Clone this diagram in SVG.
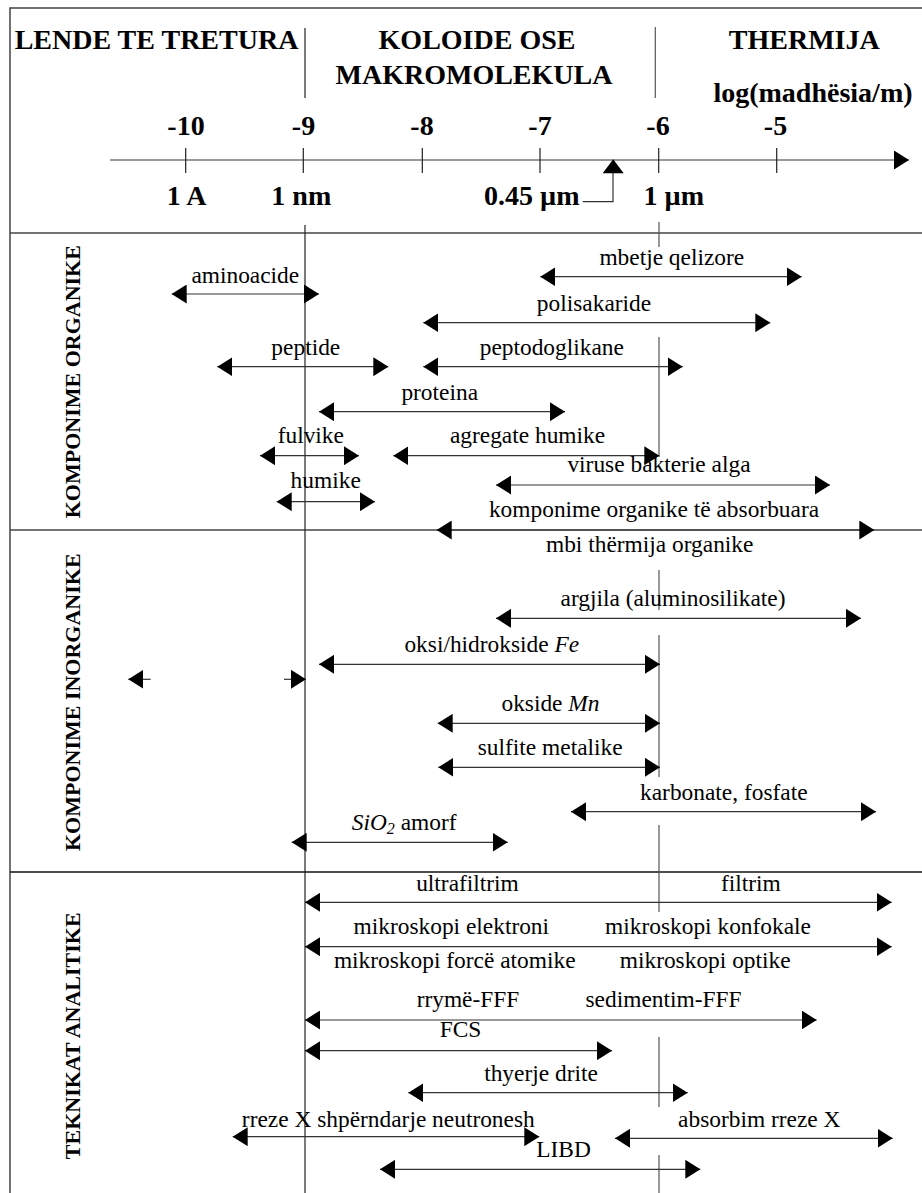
<svg xmlns="http://www.w3.org/2000/svg" width="922" height="1193" viewBox="0 0 922 1193">
<style>
.t{font-family:"Liberation Serif","Times New Roman",serif;font-size:23.4px;fill:#000;text-anchor:middle}
.h{font-family:"Liberation Serif","Times New Roman",serif;font-weight:bold;font-size:28px;fill:#000;text-anchor:middle}
.v{font-family:"Liberation Serif","Times New Roman",serif;font-weight:bold;font-size:22px;fill:#000;text-anchor:middle}
.frame{stroke:#444;stroke-width:1.5;fill:none}
.vl{stroke:#222;stroke-width:1.2;fill:none}
.tick{stroke:#222;stroke-width:1.2}
.a{stroke:#333;stroke-width:1.2;fill:none;marker-start:url(#ah);marker-end:url(#ah)}
.ar{stroke:#333;stroke-width:1.2;fill:none;marker-end:url(#ah)}
.al{stroke:#333;stroke-width:1.2;fill:none;marker-start:url(#ah)}
</style>
<defs>
<marker id="ah" markerUnits="userSpaceOnUse" markerWidth="15" markerHeight="19" refX="15" refY="9.5" orient="auto-start-reverse" viewBox="0 0 15 19">
<path d="M0,0 L15,9.5 L0,19 Z" fill="#000"/>
</marker>
</defs>
<rect width="922" height="1193" fill="#fff"/>
<g id="frame">
<path class="frame" d="M10,1193 V8 H922"/>
<line class="frame" x1="10" y1="233" x2="922" y2="233"/>
<line class="frame" x1="10" y1="530" x2="922" y2="530"/>
<line class="frame" x1="10" y1="872" x2="922" y2="872" style="stroke:#111"/>
<line class="vl" x1="305" y1="28" x2="305" y2="98"/>
<line class="vl" x1="305" y1="225" x2="305" y2="1193"/>
<line class="vl" x1="655.3" y1="27" x2="655.3" y2="98" style="stroke:#555"/>
<path class="vl" style="stroke:#555" d="M659,222 V247 M659,337 V457 M659,570 V610 M659,635 V777 M659,825 V912 M659,1037 V1107 M659,1155 V1193"/>
</g>
<g id="header">
<text class="h" x="156.5" y="48.5">LENDE TE TRETURA</text>
<text class="h" x="477" y="49">KOLOIDE OSE</text>
<text class="h" x="474" y="83.5">MAKROMOLEKULA</text>
<text class="h" x="804.3" y="49.3">THERMIJA</text>
<text class="h" x="813" y="101.7">log(madhësia/m)</text>
</g>
<g id="axis">
<line class="ar" x1="110" y1="160" x2="909" y2="160"/>
<g class="tick">
<line x1="185.7" y1="148" x2="185.7" y2="173"/>
<line x1="303.3" y1="148" x2="303.3" y2="173"/>
<line x1="422.3" y1="148" x2="422.3" y2="173"/>
<line x1="540" y1="148" x2="540" y2="173"/>
<line x1="658.7" y1="148" x2="658.7" y2="173"/>
<line x1="776.7" y1="148" x2="776.7" y2="173"/>
</g>
<text class="h" x="186" y="135">-10</text>
<text class="h" x="303.5" y="135">-9</text>
<text class="h" x="422" y="135">-8</text>
<text class="h" x="540" y="135">-7</text>
<text class="h" x="658" y="135">-6</text>
<text class="h" x="775.5" y="135">-5</text>
<text class="h" x="186.7" y="205">1 A</text>
<text class="h" x="301.3" y="205">1 nm</text>
<text class="h" x="579.5" y="205" style="text-anchor:end">0.45 µm</text>
<text class="h" x="673.8" y="205">1 µm</text>
<path class="vl" style="stroke:#333" d="M582.7,201.7 H613 V172"/>
<path d="M602.7,173.3 L613.2,159.3 L623.7,173.3 Z" fill="#000"/>
</g>
<g id="section-labels">
<text class="v" transform="translate(80,381.7) rotate(-90)">KOMPONIME ORGANIKE</text>
<text class="v" transform="translate(80,702.2) rotate(-90)">KOMPONIME INORGANIKE</text>
<text class="v" transform="translate(80,1035.8) rotate(-90)">TEKNIKAT ANALITIKE</text>
</g>
<g id="connectors">
<line class="a" x1="171.7" y1="294" x2="319" y2="294"/>
<line class="a" x1="540.3" y1="276.7" x2="801.7" y2="276.7"/>
<line class="a" x1="423.3" y1="322.7" x2="770.3" y2="322.7"/>
<line class="a" x1="217.3" y1="366.7" x2="388.3" y2="366.7"/>
<line class="a" x1="423.3" y1="366.7" x2="682.7" y2="366.7"/>
<line class="a" x1="319" y1="411.7" x2="565" y2="411.7"/>
<line class="a" x1="260" y1="455.7" x2="359" y2="455.7"/>
<line class="a" x1="393.3" y1="455.7" x2="659.3" y2="455.7"/>
<line class="a" x1="276.7" y1="501.7" x2="375" y2="501.7"/>
<line class="a" x1="496" y1="485" x2="830" y2="485"/>
<line class="a" x1="436.7" y1="530" x2="874.3" y2="530"/>
<line class="a" x1="496" y1="618.3" x2="861" y2="618.3"/>
<line class="a" x1="319" y1="664.3" x2="660" y2="664.3"/>
<line class="al" x1="128.3" y1="679.3" x2="150.7" y2="679.3"/>
<line class="ar" x1="284" y1="679.3" x2="306" y2="679.3"/>
<line class="a" x1="437.7" y1="723.3" x2="660" y2="723.3"/>
<line class="a" x1="438.3" y1="767.3" x2="660" y2="767.3"/>
<line class="a" x1="571" y1="811.7" x2="876" y2="811.7"/>
<line class="a" x1="291.7" y1="842.3" x2="507.7" y2="842.3"/>
<line class="a" x1="305" y1="902.3" x2="891.7" y2="902.3"/>
<line class="a" x1="305" y1="946.7" x2="891.7" y2="946.7"/>
<line class="a" x1="305" y1="1020" x2="816.7" y2="1020"/>
<line class="a" x1="305" y1="1050.7" x2="612" y2="1050.7"/>
<line class="a" x1="408.3" y1="1092.7" x2="687.7" y2="1092.7"/>
<line class="a" x1="232.7" y1="1136.7" x2="539.3" y2="1136.7"/>
<line class="a" x1="615" y1="1138.3" x2="892.7" y2="1138.3"/>
<line class="a" x1="380" y1="1169.3" x2="700.3" y2="1169.3"/>
</g>
<g id="n-aminoacide"><text class="t" x="245.3" y="282.5">aminoacide</text></g>
<g id="n-mbetje"><text class="t" x="671.8" y="265">mbetje qelizore</text></g>
<g id="n-polisakaride"><text class="t" x="594" y="310.7">polisakaride</text></g>
<g id="n-peptide"><text class="t" x="305.8" y="355">peptide</text></g>
<g id="n-peptodoglikane"><text class="t" x="551.8" y="355">peptodoglikane</text></g>
<g id="n-proteina"><text class="t" x="439.7" y="400">proteina</text></g>
<g id="n-fulvike"><text class="t" x="310.8" y="443.3">fulvike</text></g>
<g id="n-agregate"><text class="t" x="527.5" y="443.3">agregate humike</text></g>
<g id="n-humike"><text class="t" x="325.7" y="488.3">humike</text></g>
<g id="n-viruse"><text class="t" x="659" y="471.7">viruse bakterie alga</text></g>
<g id="n-komponime-abs"><text class="t" x="654" y="516.7">komponime organike të absorbuara</text><text class="t" x="649.7" y="551.7">mbi thërmija organike</text></g>
<g id="n-argjila"><text class="t" x="673" y="605.7">argjila (aluminosilikate)</text></g>
<g id="n-fe"><text class="t" x="491.8" y="652.3">oksi/hidrokside <tspan font-style="italic">Fe</tspan></text></g>
<g id="n-mn"><text class="t" x="550.5" y="710.7">okside <tspan font-style="italic">Mn</tspan></text></g>
<g id="n-sulfite"><text class="t" x="550.2" y="755">sulfite metalike</text></g>
<g id="n-karbonate"><text class="t" x="723.8" y="800">karbonate, fosfate</text></g>
<g id="n-sio2"><text class="t" x="351.7" y="830" style="text-anchor:start"><tspan font-style="italic">SiO</tspan><tspan font-style="italic" font-size="16" dy="4">2</tspan><tspan dy="-4"> amorf</tspan></text></g>
<g id="n-ultrafiltrim"><text class="t" x="467.5" y="890.7">ultrafiltrim</text></g>
<g id="n-filtrim"><text class="t" x="750.8" y="890.7">filtrim</text></g>
<g id="n-elektroni"><text class="t" x="451.3" y="934">mikroskopi elektroni</text></g>
<g id="n-konfokale"><text class="t" x="708" y="934">mikroskopi konfokale</text></g>
<g id="n-forc"><text class="t" x="454.7" y="968.3">mikroskopi forcë atomike</text></g>
<g id="n-optike"><text class="t" x="705.2" y="968.3">mikroskopi optike</text></g>
<g id="n-rryme"><text class="t" x="468" y="1006.7">rrymë-FFF</text></g>
<g id="n-sedimentim"><text class="t" x="663.5" y="1006.7">sedimentim-FFF</text></g>
<g id="n-fcs"><text class="t" x="460.5" y="1036.7">FCS</text></g>
<g id="n-thyerje"><text class="t" x="541" y="1080.7">thyerje drite</text></g>
<g id="n-rrezex"><text class="t" x="388.3" y="1126.7">rreze X shpërndarje neutronesh</text></g>
<g id="n-absorbim"><text class="t" x="759.3" y="1127.3">absorbim rreze X</text></g>
<g id="n-libd"><text class="t" x="563.5" y="1156.7">LIBD</text></g>
</svg>
